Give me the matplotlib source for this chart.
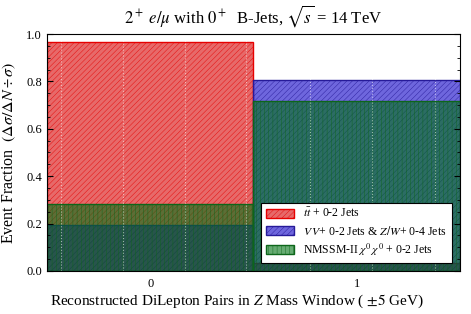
import matplotlib
matplotlib.use("Agg")
import matplotlib.pyplot as plt
from matplotlib.ticker import MultipleLocator, FixedLocator

plt.rcParams['font.family'] = ['Liberation Serif', 'DejaVu Serif']
plt.rcParams['mathtext.fontset'] = 'stix'
plt.rcParams['hatch.linewidth'] = 0.3

categories = [0, 1]
ttbar = [0.965, 0.035]
vv = [0.195, 0.805]
nmssm = [0.283, 0.717]
labels = [r"$t\bar{t}$ + 0-2 Jets",
          r"$V\,V$+ 0-2 Jets & $Z/W$+ 0-4 Jets",
          r"NMSSM-II $\chi^0\,\chi^0$ + 0-2 Jets"]

fig = plt.figure(figsize=(4.71, 3.14), dpi=100)
ax = fig.add_axes([0.0998, 0.137, 0.8768, 0.7547])

ax.bar(categories, ttbar, width=1.0, color=(0.85, 0.05, 0.05, 0.62), edgecolor=(0.9, 0, 0),
       linewidth=1.0, hatch='//////', label=labels[0])
ax.bar(categories, vv, width=1.0, color=(0.05, 0.0, 0.78, 0.6), edgecolor=(0.15, 0.1, 0.6),
       linewidth=1.0, hatch='//////', label=labels[1])
ax.bar(categories, nmssm, width=1.0, color=(0.0, 0.45, 0.08, 0.6), edgecolor=(0.05, 0.4, 0.1),
       linewidth=1.0, hatch='||||', label=labels[2])

ax.set_xlim(-0.5, 1.5)
ax.set_ylim(0, 1.0)
ax.set_xticks(categories)
ax.xaxis.set_minor_locator(FixedLocator([-0.434, -0.134, 0.166, 0.466, 0.776, 1.076, 1.38]))
ax.grid(True, which='minor', axis='x', color='white', linestyle=':', linewidth=0.8, alpha=0.55)
ax.tick_params(axis='x', which='both', length=0, labelsize=9, pad=5)
ax.yaxis.set_major_locator(MultipleLocator(0.2))
ax.yaxis.set_minor_locator(MultipleLocator(0.05))
ax.tick_params(axis='y', which='both', direction='in', left=True, right=True, labelsize=9)
ax.tick_params(axis='y', which='major', length=4)
ax.tick_params(axis='y', which='minor', length=2)

ax.set_title(r"$2^+$ $e/\mu$ with $0^+$  B-Jets, $\sqrt{s}$ = 14 TeV", fontsize=12, pad=8)
ax.set_ylabel(r"Event Fraction  $(\Delta\sigma/\Delta N \div \sigma)$", fontsize=11.5, labelpad=6)
ax.set_xlabel(r"Reconstructed DiLepton Pairs in $Z$ Mass Window ( $\pm 5$ GeV)", fontsize=11)
ax.xaxis.set_label_coords(0.46, -0.09)

leg = ax.legend(loc='lower right', fontsize=8.5, frameon=True, fancybox=False,
                edgecolor='black', framealpha=1.0, borderaxespad=0.7,
                handlelength=2.4, handleheight=0.8, labelspacing=0.35, borderpad=0.4)
leg.get_frame().set_linewidth(0.8)

fig.savefig("out.png", dpi=100)
